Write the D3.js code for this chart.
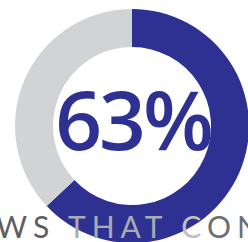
<!DOCTYPE html>
<html><head><meta charset="utf-8">
<script src="https://cdn.jsdelivr.net/npm/d3@7"></script>
<style>html,body{margin:0;padding:0;background:#fff;overflow:hidden}</style>
</head><body>
<svg id="c" width="248" height="242"></svg>
<script>
const categories = ["share", "rest"];
const values = [63, 37];
const centerLabel = "63%";
const captionLetters = ["W","S"," ","T","H","A","T"," ","C","O","N"];
const captionColors = ["#5d5e60","#5d5e60","#fff","#a9abb4","#a9abb4","#a9abb4","#a9abb4","#fff","#bfc0c2","#6d6e71","#6d6e71"];

const svg = d3.select("#c");
const cx = 132, cy = 126, rOut = 117, rIn = 79;
const color = d3.scaleOrdinal().domain(categories).range(["#2e3192", "#d1d3d4"]);
const pie = d3.pie().sort(null).value(d => d.v);
const arc = d3.arc().innerRadius(rIn).outerRadius(rOut);
const g = svg.append("g").attr("transform", `translate(${cx},${cy})`);
g.selectAll("path").data(pie(categories.map((c,i)=>({c, v: values[i]})))).join("path")
  .attr("d", arc).attr("fill", d => color(d.data.c));

g.append("text").attr("x", 1).attr("y", 24).attr("text-anchor","middle")
  .attr("font-family","'Open Sans', sans-serif").attr("font-weight", 600)
  .attr("font-size", 82).attr("letter-spacing", -3).attr("fill","#2e3192").text(centerLabel);

const cap = svg.append("text").attr("x", -4).attr("y", 238)
  .attr("font-family","Lato, sans-serif").attr("font-size", 30).attr("letter-spacing", 6);
cap.selectAll("tspan").data(captionLetters).join("tspan")
  .attr("fill", (d,i)=>captionColors[i]).text(d=>d);
</script>
</body></html>
